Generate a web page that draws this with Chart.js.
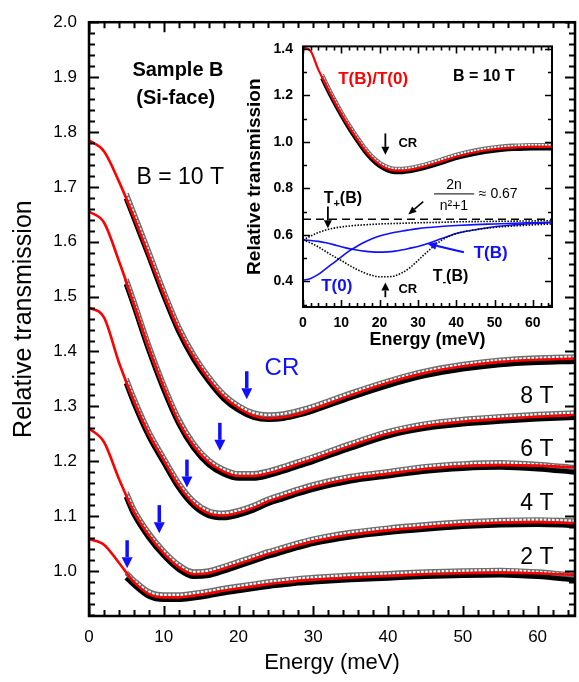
<!DOCTYPE html>
<html>
<head>
<meta charset="utf-8">
<script src="https://cdn.jsdelivr.net/npm/chart.js@4.4.1/dist/chart.umd.min.js"></script>
<style>
  body { margin: 0; background: #fff; }
  #wrap { position: relative; width: 579px; height: 682px; }
  #main { position: absolute; left: 0; top: 0; }
  #inset { position: absolute; left: 236px; top: 28px; background: #fff; }
</style>
</head>
<body>
<div id="wrap">
  <canvas id="main" width="579" height="682"></canvas>
  <canvas id="inset" width="324" height="326"></canvas>
</div>
<script>
const FONT = '"Liberation Sans", Arial, sans-serif';
Chart.defaults.font.family = FONT;
Chart.defaults.color = '#000';

/* main panel : fitted curves (offset by 0.1 per field, as plotted) */
const energyFit = [0, 2, 4, 6, 8, 10, 12, 14, 16, 18, 20, 22, 24, 26, 28, 30, 35, 40, 45, 50, 55, 60, 65];
const fit10T = [1.785, 1.765, 1.71, 1.645, 1.575, 1.505, 1.44, 1.39, 1.35, 1.318, 1.297, 1.283, 1.278, 1.280, 1.286, 1.295, 1.320, 1.343, 1.361, 1.373, 1.381, 1.385, 1.387];
const fit8T  = [1.655, 1.635, 1.565, 1.487, 1.407, 1.335, 1.272, 1.228, 1.198, 1.181, 1.173, 1.173, 1.178, 1.186, 1.195, 1.204, 1.228, 1.250, 1.264, 1.272, 1.277, 1.281, 1.284];
const fit6T  = [1.48, 1.462, 1.38, 1.31, 1.25, 1.202, 1.156, 1.123, 1.105, 1.101, 1.106, 1.115, 1.127, 1.136, 1.145, 1.153, 1.168, 1.177, 1.186, 1.191, 1.193, 1.192, 1.189];
const fit4T  = [1.26, 1.235, 1.168, 1.108, 1.065, 1.032, 1.007, 0.994, 0.996, 1.004, 1.013, 1.022, 1.031, 1.039, 1.047, 1.054, 1.066, 1.074, 1.080, 1.085, 1.088, 1.089, 1.087];
const fit2T  = [1.058, 1.048, 1.015, 0.98, 0.958, 0.952, 0.952, 0.955, 0.959, 0.964, 0.968, 0.972, 0.976, 0.979, 0.982, 0.984, 0.988, 0.991, 0.994, 0.996, 0.997, 0.996, 0.993];

/* main panel : measured points */
const energyData = [5, 6, 8, 10, 12, 14, 16, 18, 20, 22, 24, 26, 28, 30, 35, 40, 45, 50, 55, 60, 65];
const data10T = [1.683, 1.648, 1.578, 1.506, 1.441, 1.390, 1.350, 1.318, 1.297, 1.284, 1.280, 1.282, 1.288, 1.296, 1.320, 1.342, 1.360, 1.372, 1.380, 1.384, 1.386];
const data8T  = [1.527, 1.488, 1.407, 1.335, 1.273, 1.228, 1.198, 1.181, 1.173, 1.173, 1.178, 1.186, 1.195, 1.204, 1.228, 1.250, 1.264, 1.272, 1.277, 1.281, 1.284];
const data6T  = [1.346, 1.311, 1.250, 1.202, 1.156, 1.123, 1.105, 1.101, 1.106, 1.115, 1.127, 1.136, 1.145, 1.153, 1.168, 1.177, 1.186, 1.191, 1.193, 1.190, 1.184];
const data4T  = [1.139, 1.108, 1.065, 1.032, 1.007, 0.994, 0.996, 1.004, 1.013, 1.022, 1.031, 1.039, 1.047, 1.054, 1.066, 1.074, 1.080, 1.085, 1.088, 1.089, 1.087];
const data2T  = [0.992, 0.979, 0.958, 0.952, 0.952, 0.955, 0.959, 0.964, 0.968, 0.972, 0.976, 0.979, 0.982, 0.984, 0.988, 0.991, 0.994, 0.996, 0.997, 0.994, 0.988];

const fields = ['10 T', '8 T', '6 T', '4 T', '2 T'];
const crEnergy = [21.1, 17.5, 13.1, 9.4, 5.1];        // blue CR arrows
const crArrowTip = [1.313, 1.219, 1.152, 1.069, 1.005];

const xTicks = [0, 10, 20, 30, 40, 50, 60];
const yTicks = [1.0, 1.1, 1.2, 1.3, 1.4, 1.5, 1.6, 1.7, 1.8, 1.9, 2.0];

/* inset : B = 10 T */
const insetE = [0, 2, 4, 6, 8, 10, 12, 14, 16, 18, 20, 22, 24, 26, 28, 30, 33, 36, 40, 45, 50, 55, 60, 65];
const insetRatioFit = [1.405, 1.39, 1.31, 1.245, 1.18, 1.12, 1.065, 1.015, 0.968, 0.93, 0.902, 0.884, 0.876, 0.876, 0.88, 0.887, 0.9, 0.915, 0.936, 0.955, 0.968, 0.975, 0.978, 0.978];
const insetTplus  = [0.578, 0.595, 0.61, 0.621, 0.629, 0.634, 0.638, 0.641, 0.643, 0.645, 0.647, 0.648, 0.649, 0.65, 0.651, 0.652, 0.653, 0.654, 0.656, 0.657, 0.658, 0.659, 0.66, 0.661];
const insetTminus = [0.578, 0.565, 0.548, 0.528, 0.508, 0.49, 0.47, 0.452, 0.437, 0.426, 0.42, 0.42, 0.424, 0.438, 0.46, 0.49, 0.535, 0.575, 0.605, 0.622, 0.632, 0.638, 0.643, 0.647];
const insetTB = [0.578, 0.576, 0.572, 0.566, 0.558, 0.549, 0.541, 0.535, 0.53, 0.527, 0.526, 0.527, 0.53, 0.536, 0.543, 0.55, 0.565, 0.583, 0.606, 0.622, 0.635, 0.643, 0.649, 0.653];
const insetT0 = [0.405, 0.413, 0.43, 0.455, 0.48, 0.505, 0.53, 0.55, 0.568, 0.583, 0.595, 0.604, 0.611, 0.617, 0.622, 0.627, 0.632, 0.636, 0.64, 0.644, 0.647, 0.65, 0.652, 0.654];
const insetDataE = [5, 6, 8, 10, 12, 14, 16, 18, 20, 22, 24, 26, 28, 30, 33, 36, 40, 45, 50, 55, 60, 65];
const insetRatioData = [1.28, 1.245, 1.18, 1.12, 1.065, 1.015, 0.968, 0.93, 0.902, 0.884, 0.876, 0.876, 0.88, 0.887, 0.9, 0.915, 0.936, 0.955, 0.968, 0.975, 0.978, 0.978];
const limitLevel = 0.667;   // 2n/(n^2+1)
const insetXTicks = [0, 10, 20, 30, 40, 50, 60];
const insetYTicks = [0.4, 0.6, 0.8, 1.0, 1.2, 1.4];

function xy(es, vs) { return es.map((e, i) => ({ x: e, y: vs[i] })); }

/* shift a dataset a few px up/down (black circles below, squares above) */
const shiftPlugin = {
  id: 'shift',
  beforeDatasetDraw(chart, args) {
    const dy = chart.data.datasets[args.index].shiftY || 0;
    chart.ctx.save();
    chart.ctx.translate(0, dy);
  },
  afterDatasetDraw(chart) { chart.ctx.restore(); }
};

/* box frame with inward ticks on all four sides */
const framePlugin = {
  id: 'frame',
  afterDatasetsDraw(chart, args, o) {
    const { ctx, chartArea: a, scales: { x, y } } = chart;
    ctx.save();
    ctx.strokeStyle = '#000';
    ctx.lineWidth = o.tickWidth;
    const nx = Math.round(o.xMajor / o.xMinor);
    for (let i = Math.ceil(x.min / o.xMinor - 1e-6); i * o.xMinor <= x.max + 1e-6; i++) {
      const px = Math.round(x.getPixelForValue(i * o.xMinor)) + 0.5;
      const len = i % nx === 0 ? o.majorLen : o.minorLen;
      ctx.beginPath();
      ctx.moveTo(px, a.bottom); ctx.lineTo(px, a.bottom - len);
      ctx.moveTo(px, a.top); ctx.lineTo(px, a.top + len);
      ctx.stroke();
    }
    const ny = Math.round(o.yMajor / o.yMinor);
    for (let i = Math.ceil(y.min / o.yMinor - 1e-6); i * o.yMinor <= y.max + 1e-6; i++) {
      const py = Math.round(y.getPixelForValue(i * o.yMinor)) + 0.5;
      const len = i % ny === 0 ? o.majorLen : o.minorLen;
      ctx.beginPath();
      ctx.moveTo(a.left, py); ctx.lineTo(a.left + len, py);
      ctx.moveTo(a.right, py); ctx.lineTo(a.right - len, py);
      ctx.stroke();
    }
    ctx.lineWidth = o.frameWidth;
    ctx.strokeRect(a.left, a.top, a.right - a.left, a.bottom - a.top);
    ctx.restore();
  }
};

function txt(ctx, s, x, y, font, color, align) {
  ctx.font = font;
  ctx.fillStyle = color;
  ctx.textAlign = align || 'center';
  ctx.textBaseline = 'middle';
  ctx.fillText(s, x, y);
}

function arrow(ctx, x1, y1, x2, y2, color, w, hl, hw) {
  const ang = Math.atan2(y2 - y1, x2 - x1);
  const bx = x2 - hl * Math.cos(ang), by = y2 - hl * Math.sin(ang);
  ctx.save();
  ctx.strokeStyle = color; ctx.fillStyle = color; ctx.lineWidth = w;
  ctx.beginPath(); ctx.moveTo(x1, y1); ctx.lineTo(bx, by); ctx.stroke();
  ctx.beginPath();
  ctx.moveTo(x2, y2);
  ctx.lineTo(bx + hw / 2 * Math.sin(ang), by - hw / 2 * Math.cos(ang));
  ctx.lineTo(bx - hw / 2 * Math.sin(ang), by + hw / 2 * Math.cos(ang));
  ctx.closePath(); ctx.fill();
  ctx.restore();
}

function subText(ctx, main, sub, rest, cx, cy, size, color) {
  const f = 'bold ' + size + 'px ' + FONT, fs = 'bold ' + Math.round(size * 0.7) + 'px ' + FONT;
  ctx.font = f; const w1 = ctx.measureText(main).width, w3 = ctx.measureText(rest).width;
  ctx.font = fs; const w2 = ctx.measureText(sub).width;
  let x = cx - (w1 + w2 + w3) / 2;
  txt(ctx, main, x, cy, f, color, 'left'); x += w1;
  txt(ctx, sub, x, cy + size * 0.35, fs, color, 'left'); x += w2;
  txt(ctx, rest, x, cy, f, color, 'left');
}

const BLUE = '#1010ff';

const mainNotes = {
  id: 'mainNotes',
  afterDraw(chart) {
    const { ctx, scales: { x, y } } = chart;
    const X = v => x.getPixelForValue(v), Y = v => y.getPixelForValue(v);
    txt(ctx, 'Sample B', X(11.9), Y(1.912), 'bold 20px ' + FONT, '#000');
    txt(ctx, '(Si-face)', X(11.6), Y(1.861), 'bold 20px ' + FONT, '#000');
    txt(ctx, 'B = ' + fields[0], X(12.2), Y(1.716), '23px ' + FONT, '#000');
    txt(ctx, 'CR', X(25.8), Y(1.369), '24px ' + FONT, BLUE);
    const labelY = [1.318, 1.222, 1.123, 1.025];
    fields.slice(1).forEach((f, i) => txt(ctx, f, X(59.9), Y(labelY[i]), '23px ' + FONT, '#000'));
    crEnergy.forEach((e, i) => {
      const tip = Y(crArrowTip[i]);
      arrow(ctx, X(e), tip - 28, X(e), tip, BLUE, 3.5, 11, 11);
    });
  }
};

const insetNotes = {
  id: 'insetNotes',
  afterDraw(chart) {
    const { ctx, scales: { x, y } } = chart;
    const X = v => x.getPixelForValue(v), Y = v => y.getPixelForValue(v);
    txt(ctx, 'T(B)/T(0)', X(18.3), Y(1.267), 'bold 17px ' + FONT, '#ff0000');
    txt(ctx, 'B = 10 T', X(47.2), Y(1.28), 'bold 16px ' + FONT, '#000');
    arrow(ctx, X(21.5), Y(1.036), X(21.5), Y(0.944), '#000', 1.8, 8, 8);
    txt(ctx, 'CR', X(24.9), Y(0.994), 'bold 13px ' + FONT, '#000', 'left');
    subText(ctx, 'T', '+', '(B)', X(10.4), Y(0.756), 16, '#000');
    arrow(ctx, X(6.5), Y(0.722), X(6.5), Y(0.628), '#000', 1.8, 8, 8);
    txt(ctx, '2n', X(39.4), Y(0.814), '14px ' + FONT, '#000');
    ctx.save(); ctx.strokeStyle = '#000'; ctx.lineWidth = 1;
    ctx.beginPath(); ctx.moveTo(X(34.2), Y(0.776)); ctx.lineTo(X(44.7), Y(0.776)); ctx.stroke(); ctx.restore();
    txt(ctx, 'n\u00b2+1', X(39.4), Y(0.722), '14px ' + FONT, '#000');
    txt(ctx, '\u2248 0.67', X(45.9), Y(0.776), '14px ' + FONT, '#000', 'left');
    arrow(ctx, X(31.4), Y(0.743), X(27.5), Y(0.688), '#000', 1.5, 8, 7);
    txt(ctx, 'T(B)', X(49), Y(0.521), 'bold 17px ' + FONT, BLUE);
    arrow(ctx, X(42), Y(0.525), X(32.5), Y(0.562), BLUE, 2, 9, 8);
    txt(ctx, 'T(0)', X(8.8), Y(0.378), 'bold 17px ' + FONT, BLUE);
    subText(ctx, 'T', '-', '(B)', X(38.5), Y(0.42), 16, '#000');
    arrow(ctx, X(21.5), Y(0.332), X(21.5), Y(0.395), '#000', 1.8, 8, 8);
    txt(ctx, 'CR', X(24.9), Y(0.365), 'bold 13px ' + FONT, '#000', 'left');
  }
};

function lineSet(data, color, width, extra) {
  return Object.assign({ data, borderColor: color, borderWidth: width, pointRadius: 0,
    fill: false, cubicInterpolationMode: 'monotone' }, extra || {});
}

/* ---------- main chart ---------- */
const fits = [fit10T, fit8T, fit6T, fit4T, fit2T];
const meas = [data10T, data8T, data6T, data4T, data2T];
const mainSets = [];
fits.forEach((f, k) => {
  const d = xy(energyData, meas[k]);
  mainSets.push(lineSet(xy(energyFit, f), '#ff0000', 2.6, { order: 1, label: 'fit ' + fields[k] }));
  mainSets.push(lineSet(d, '#ffffff', 2.2, { order: 2, shiftY: -2.5, borderDash: [2.5, 1.6] }));
  mainSets.push(lineSet(d, '#6e6e6e', 5, { order: 3, shiftY: -2.5 }));
  mainSets.push(lineSet(d, '#000000', 5.5, { order: 4, shiftY: 2, label: fields[k] }));
});

new Chart(document.getElementById('main'), {
  type: 'line',
  data: { datasets: mainSets },
  options: {
    responsive: false, animation: false, devicePixelRatio: 1, events: [],
    layout: { padding: { top: 18, right: 4, left: 0, bottom: 0 } },
    plugins: {
      legend: { display: false }, tooltip: { enabled: false },
      frame: { xMajor: 10, xMinor: 2, yMajor: 0.1, yMinor: 0.02, majorLen: 10, minorLen: 6, tickWidth: 2, frameWidth: 2.5 }
    },
    scales: {
      x: {
        type: 'linear', min: 0, max: 65,
        afterBuildTicks: s => { s.ticks = xTicks.map(v => ({ value: v })); },
        afterFit: s => { s.height = 66; },
        grid: { display: false, drawTicks: false }, border: { display: false },
        ticks: { font: { size: 17 }, color: '#000', padding: 11, maxRotation: 0, autoSkip: false },
        title: { display: true, text: 'Energy (meV)', font: { size: 22 }, color: '#000', padding: { top: 0, bottom: 6 } }
      },
      y: {
        min: 0.918, max: 2.0,
        afterBuildTicks: s => { s.ticks = yTicks.map(v => ({ value: v })); },
        afterFit: s => { s.width = 89; },
        grid: { display: false, drawTicks: false }, border: { display: false },
        ticks: { font: { size: 17 }, color: '#000', padding: 12, callback: v => v.toFixed(1) },
        title: { display: true, text: 'Relative transmission', font: { size: 25 }, color: '#000', padding: { top: 9, bottom: 0 } }
      }
    }
  },
  plugins: [shiftPlugin, framePlugin, mainNotes]
});

/* ---------- inset ---------- */
const insetData = xy(insetDataE, insetRatioData);
const insetSets = [
  lineSet(xy(insetE, insetRatioFit), '#ff0000', 2.2, { order: 1, label: 'T(B)/T(0)' }),
  lineSet(insetData, '#ffffff', 1.8, { order: 2, shiftY: -2, borderDash: [2, 1.4] }),
  lineSet(insetData, '#6e6e6e', 4, { order: 3, shiftY: -2 }),
  lineSet(insetData, '#000000', 4, { order: 4, shiftY: 1.5 }),
  lineSet([{ x: 0, y: limitLevel }, { x: 65, y: limitLevel }], '#000', 1.5, { order: 5, borderDash: [8, 5] }),
  lineSet(xy(insetE, insetTplus), '#000', 1.6, { order: 6, borderDash: [1.5, 1.5] }),
  lineSet(xy(insetE, insetTminus), '#000', 1.6, { order: 6, borderDash: [1.5, 1.5] }),
  lineSet(xy(insetE, insetTB), BLUE, 1.6, { order: 6 }),
  lineSet(xy(insetE, insetT0), BLUE, 1.6, { order: 6 })
];

new Chart(document.getElementById('inset'), {
  type: 'line',
  data: { datasets: insetSets },
  options: {
    responsive: false, animation: false, devicePixelRatio: 1, events: [],
    layout: { padding: { top: 13, right: 8, left: 0, bottom: 0 } },
    plugins: {
      legend: { display: false }, tooltip: { enabled: false },
      frame: { xMajor: 10, xMinor: 2, yMajor: 0.2, yMinor: 0.1, majorLen: 7, minorLen: 4, tickWidth: 1.6, frameWidth: 2 }
    },
    scales: {
      x: {
        type: 'linear', min: 0, max: 65,
        afterBuildTicks: s => { s.ticks = insetXTicks.map(v => ({ value: v })); },
        afterFit: s => { s.height = 47; },
        grid: { display: false, drawTicks: false }, border: { display: false },
        ticks: { font: { size: 14, weight: 'bold' }, color: '#000', padding: 8, maxRotation: 0, autoSkip: false },
        title: { display: true, text: 'Energy (meV)', font: { size: 18, weight: 'bold' }, color: '#000', padding: { top: 0, bottom: 3 } }
      },
      y: {
        min: 0.29, max: 1.41,
        afterBuildTicks: s => { s.ticks = insetYTicks.map(v => ({ value: v })); },
        afterFit: s => { s.width = 67; },
        grid: { display: false, drawTicks: false }, border: { display: false },
        ticks: { font: { size: 14, weight: 'bold' }, color: '#000', padding: 10, callback: v => v.toFixed(1) },
        title: { display: true, text: 'Relative transmission', font: { size: 19, weight: 'bold' }, color: '#000', padding: { top: 7, bottom: 0 } }
      }
    }
  },
  plugins: [shiftPlugin, framePlugin, insetNotes]
});
</script>
</body>
</html>
